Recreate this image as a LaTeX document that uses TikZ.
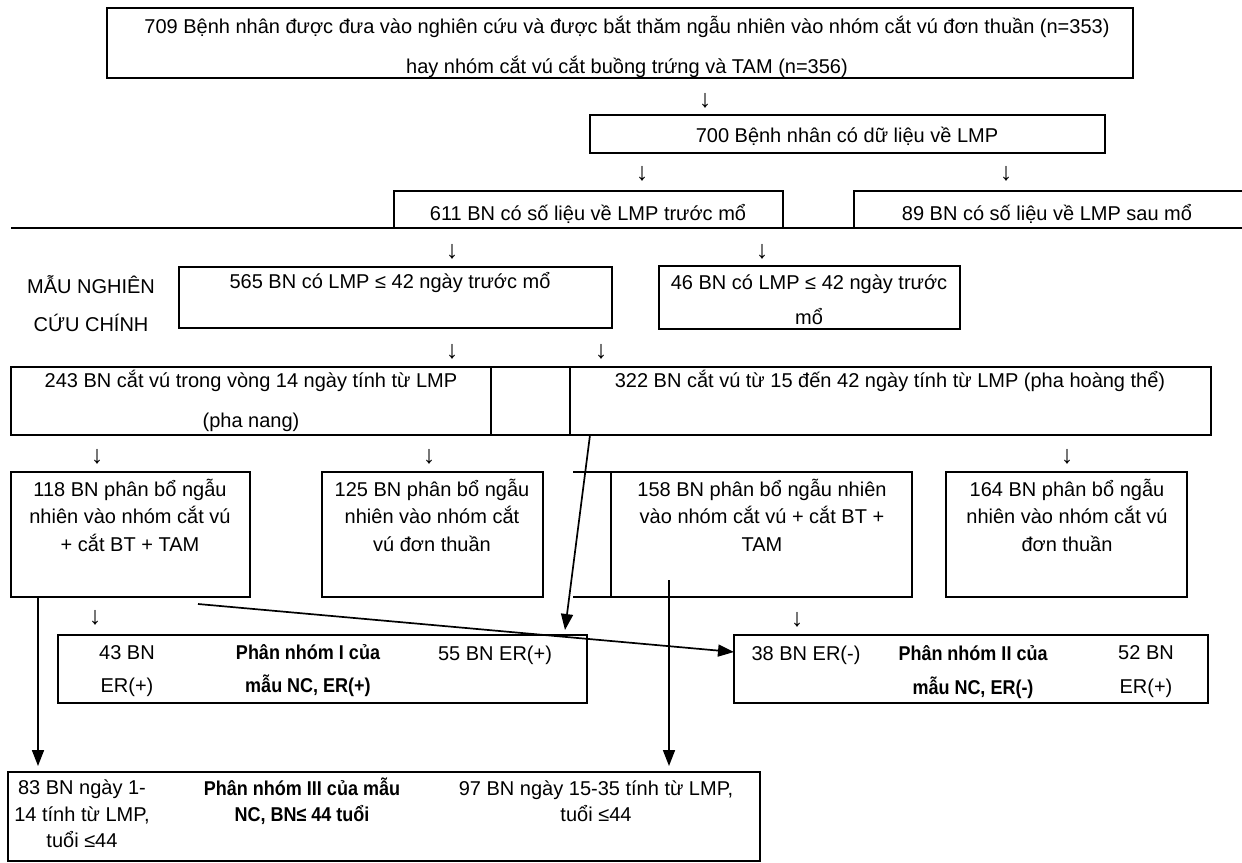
\documentclass[tikz,border=0pt]{standalone}
\usepackage{fontspec}
\setmainfont{Liberation Sans}
\usetikzlibrary{arrows.meta,fit}
\begin{document}
\begin{tikzpicture}[x=1pt,y=-1pt,
  bx/.style={draw, line width=2.4pt, inner sep=0pt, outer sep=0pt},
  ln/.style={line width=2.4pt},
  tx/.style={inner sep=0pt, align=center, font=\fontsize{20}{#1}\selectfont},
  tx/.default=24,
  bt/.style={inner sep=0pt, align=center, font=\fontsize{20}{#1}\selectfont\bfseries\addfontfeature{FakeStretch=0.9}},
  dn/.style={inner sep=0pt, font=\fontsize{25}{25}\selectfont},
  arr/.style={line width=1.7pt, -{Triangle[length=16pt,width=12pt]}}]
\useasboundingbox (0,0) rectangle (1242,862);

% row 1
\node[bx, fit={(107,8)(1133,78)}] (top) {};
\node[tx=40] (ttop) at (627,47) {709 Bệnh nhân được đưa vào nghiên cứu và được bắt thăm ngẫu nhiên vào nhóm cắt vú đơn thuần (n=353)\\hay nhóm cắt vú cắt buồng trứng và TAM (n=356)};
\node[dn] (d1) at (705,101) {↓};

% row 2
\node[bx, fit={(590,115)(1105,153)}] (b700) {};
\node[tx] (t700) at (847,136) {700 Bệnh nhân có dữ liệu về LMP};
\node[dn] (d2) at (642,174) {↓};
\node[dn] (d3) at (1006,174) {↓};

% row 3 (611 / 89)
\coordinate (ls) at (11,228);
\coordinate (le) at (1242,228);
\draw[ln] (ls) -- (le);
\draw[ln] (394,228) -- (394,191) -- (783,191) -- (783,228);
\draw[ln] (854,228) -- (854,191) -- (1242,191);
\node[tx] (t611) at (588,214) {611 BN có số liệu về LMP trước mổ};
\node[tx] (t89) at (1047,214) {89 BN có số liệu về LMP sau mổ};
\node[dn] (d4) at (452,252) {↓};
\node[dn] (d5) at (762,252) {↓};

% row 4 (565 / 46)
\node[tx=38] (tmau) at (91,304) {MẪU NGHIÊN\\CỨU CHÍNH};
\node[bx, fit={(179,267)(612,328)}] (b565) {};
\node[tx] (t565) at (390,283) {565 BN có LMP ≤ 42 ngày trước mổ};
\node[bx, fit={(659,266)(960,329)}] (b46) {};
\node[tx=35] (t46) at (809,300) {46 BN có LMP ≤ 42 ngày trước\\mổ};
\node[dn] (d6) at (452,352) {↓};
\node[dn] (d7) at (601,352) {↓};

% row 5 (243 / 322)
\node[bx, fit={(11,367)(491,435)}] (b243) {};
\node[bx, fit={(491,367)(570,435)}] (bmid) {};
\node[bx, fit={(570,367)(1211,435)}] (b322) {};
\node[tx=40] (t243) at (251,401) {243 BN cắt vú trong vòng 14 ngày tính từ LMP\\(pha nang)};
\node[tx] (t322) at (890,381) {322 BN cắt vú từ 15 đến 42 ngày tính từ LMP (pha hoàng thể)};
\node[dn] (d8) at (97,457) {↓};
\node[dn] (d9) at (429,457) {↓};
\node[dn] (d10) at (1067,457) {↓};

% row 6
\node[bx, fit={(11,472)(250,597)}] (b118) {};
\node[tx=27.5] (t118) at (130,515) {118 BN phân bổ ngẫu\\nhiên vào nhóm cắt vú\\+ cắt BT + TAM};
\node[bx, fit={(322,472)(543,597)}] (b125) {};
\node[tx=27.5] (t125) at (432,515) {125 BN phân bổ ngẫu\\nhiên vào nhóm cắt\\vú đơn thuần};
\draw[ln] (573,472) -- (611,472);
\draw[ln] (573,597) -- (611,597);
\node[bx, fit={(611,472)(912,597)}] (b158) {};
\node[tx=27.5] (t158) at (762,515) {158 BN phân bổ ngẫu nhiên\\vào nhóm cắt vú + cắt BT +\\TAM};
\node[bx, fit={(946,472)(1187,597)}] (b164) {};
\node[tx=27.5] (t164) at (1067,515) {164 BN phân bổ ngẫu\\nhiên vào nhóm cắt vú\\đơn thuần};
\node[dn] (d11) at (95,618) {↓};
\node[dn] (d12) at (797,620) {↓};

% row 7 (subgroups I, II)
\node[bx, fit={(58,635)(587,703)}] (bI) {};
\node[tx=33] (tI1) at (127,671) {43 BN\\ER(+)};
\node[bt=33] (tI2) at (308,671) {Phân nhóm I của\\mẫu NC, ER(+)};
\node[tx] (tI3) at (495,655) {55 BN ER(+)};
\node[bx, fit={(734,635)(1208,703)}] (bII) {};
\node[tx] (tII1) at (806,655) {38 BN ER(-)};
\node[bt=34] (tII2) at (973,672) {Phân nhóm II của\\mẫu NC, ER(-)};
\node[tx=34] (tII3) at (1146,672) {52 BN\\ER(+)};

% row 8 (subgroup III)
\node[bx, fit={(8,772)(760,861)}] (bIII) {};
\node[tx=26.5] (tIII1) at (82,814) {83 BN ngày 1-\\14 tính từ LMP,\\tuổi ≤44};
\node[bt=26.5] (tIII2) at (302,801) {Phân nhóm III của mẫu\\NC, BN≤ 44 tuổi};
\node[tx=26.5] (tIII3) at (596,801) {97 BN ngày 15-35 tính từ LMP,\\tuổi ≤44};

% connectors
\coordinate (c1s) at (590,435);
\coordinate (c1e) at (565,630);
\draw[arr] (c1s) -- (c1e);
\coordinate (c2s) at (198,604);
\coordinate (c2e) at (734,652);
\draw[arr] (c2s) -- (c2e);
\coordinate (c3s) at (38,597);
\coordinate (c3e) at (38,766);
\draw[arr] (c3s) -- (c3e);
\coordinate (c4s) at (669,580);
\coordinate (c4e) at (669,766);
\draw[arr] (c4s) -- (c4e);
\end{tikzpicture}
\end{document}
